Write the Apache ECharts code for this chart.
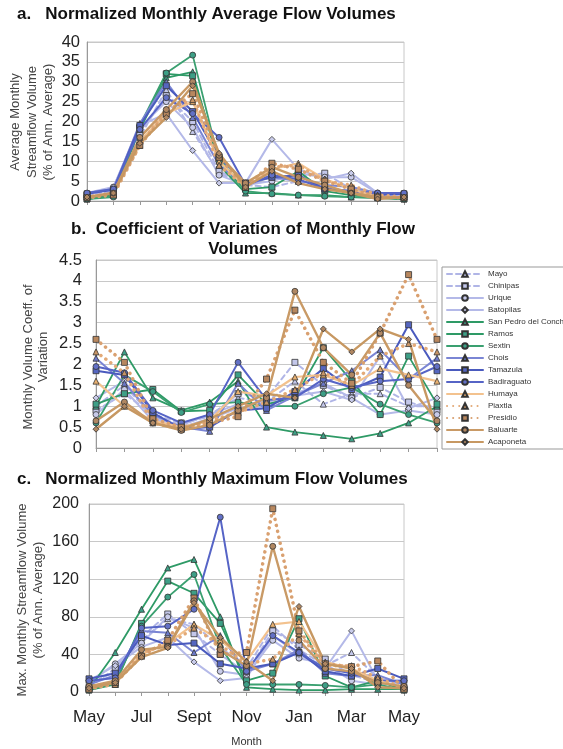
<!DOCTYPE html>
<html><head><meta charset="utf-8">
<script src="https://cdn.jsdelivr.net/npm/echarts@6/dist/echarts.min.js"></script>
<style>html,body{margin:0;padding:0;background:#fff}#c{width:563px;height:749px}</style>
</head><body><div id="c"></div>
<script>
// ---------- DATA ----------
const months = ['May','Jun','Jul','Aug','Sept','Oct','Nov','Dec','Jan','Feb','Mar','Apr','May'];
const rivers = ['Mayo','Chinipas','Urique','Batopilas','San Pedro del Conchos','Ramos','Sextin',
  'Chois','Tamazula','Badiraguato','Humaya','Piaxtla','Presidio','Baluarte','Acaponeta'];

// a. Normalized monthly average flow volume (% of annual average)
const avgMayo        = [1.5, 2.5, 16, 28, 17.5, 7, 4, 3.5, 5, 3.5, 2, 1.5, 1.5];
const avgChinipas    = [1.5, 2.5, 17, 26.5, 20, 7.5, 4.5, 6.5, 6, 7, 3, 1.5, 1.5];
const avgUrique      = [1.5, 3.5, 18.5, 25, 18.5, 6.5, 4, 5, 7, 6, 6, 2, 1.5];
const avgBatopilas   = [2, 3.5, 19, 22, 12.7, 4.5, 4.5, 15.5, 8, 5.5, 7, 2, 2];
const avgSanPedro    = [0.5, 1.5, 18, 31, 32.5, 9, 2, 2, 1.5, 1.5, 1, 0.8, 0.5];
const avgRamos       = [0.5, 1.5, 18.5, 32, 31.5, 10.5, 3, 3.5, 7.5, 2.5, 1.5, 1, 0.5];
const avgSextin      = [0.5, 1, 19, 32.2, 36.7, 10, 2.5, 1.8, 1.5, 1.2, 1, 0.8, 0.5];
const avgChois       = [2, 3, 19.5, 30, 21, 9, 4, 6, 5, 4, 3.5, 2, 2];
const avgTamazula    = [1.8, 2.8, 19, 29, 22.5, 11, 4.5, 6, 6.5, 3, 2.5, 1.5, 1.8];
const avgBadiraguato = [2, 3, 18, 26, 22, 16, 4, 6.5, 5.5, 3, 2.5, 2, 2];
const avgHumaya      = [1, 2, 15, 22, 25, 10, 3.5, 8, 9.5, 5.5, 3, 1, 1];
const avgPiaxtla     = [1, 2, 14, 23, 25.5, 9, 3.5, 8.5, 9, 5, 4, 1.5, 1];
const avgPresidio    = [0.8, 1.5, 14, 22, 27, 11, 3.5, 9.5, 8, 5, 3, 1, 0.8];
const avgBaluarte    = [0.8, 2, 16, 23, 30, 11.5, 4.5, 8.5, 6, 4, 2, 1, 0.8];
const avgAcaponeta   = [1, 2, 14.5, 21, 29, 12, 3.5, 7.5, 4.5, 3, 2, 0.5, 1];

// b. Coefficient of variation of monthly flow volumes
const cvMayo        = [1.0, 1.5, 0.75, 0.55, 0.8, 1.2, 1.1, 1.6, 1.05, 1.3, 1.3, 1.0, 1.0];
const cvChinipas    = [0.9, 1.3, 0.8, 0.6, 0.75, 1.3, 1.2, 2.05, 1.5, 1.2, 1.45, 1.1, 0.9];
const cvUrique      = [0.8, 1.4, 0.65, 0.5, 0.7, 0.95, 1.0, 1.3, 1.55, 1.2, 0.8, 0.9, 0.8];
const cvBatopilas   = [1.2, 1.6, 0.7, 0.55, 0.8, 1.05, 1.1, 1.25, 1.35, 1.15, 2.2, 0.95, 1.2];
const cvSanPedro    = [1.0, 2.3, 1.2, 0.9, 1.1, 1.6, 0.5, 0.38, 0.3, 0.22, 0.35, 0.6, 1.0];
const cvRamos       = [1.05, 1.3, 1.4, 0.88, 0.9, 1.75, 1.05, 1.2, 2.4, 1.6, 0.8, 2.2, 1.05];
const cvSextin      = [0.6, 1.75, 1.35, 0.85, 1.05, 1.1, 1.0, 1.0, 1.3, 1.45, 1.05, 0.8, 0.6];
const cvChois       = [2.15, 1.55, 0.8, 0.5, 0.4, 1.55, 0.9, 1.25, 1.55, 1.85, 2.35, 1.65, 2.15];
const cvTamazula    = [1.85, 1.75, 0.85, 0.45, 0.5, 0.9, 0.95, 1.35, 1.9, 1.4, 1.7, 2.95, 1.85];
const cvBadiraguato = [1.95, 1.8, 0.9, 0.6, 0.8, 2.05, 1.15, 1.2, 1.65, 1.45, 1.6, 1.65, 1.95];
const cvHumaya      = [1.6, 1.0, 0.65, 0.5, 0.65, 1.35, 1.25, 1.7, 1.75, 1.5, 1.9, 1.75, 1.6];
const cvPiaxtla     = [2.3, 1.8, 0.6, 0.45, 0.65, 0.85, 1.1, 1.4, 1.8, 1.5, 2.2, 2.5, 2.3];
const cvPresidio    = [2.6, 2.05, 0.7, 0.5, 0.6, 0.75, 1.65, 3.3, 2.05, 1.55, 2.75, 4.15, 2.6];
const cvBaluarte    = [0.65, 1.1, 0.6, 0.42, 0.55, 0.9, 1.2, 3.75, 2.4, 1.75, 2.75, 1.5, 0.65];
const cvAcaponeta   = [0.45, 1.0, 0.6, 0.45, 0.7, 1.0, 1.3, 1.2, 2.85, 2.3, 2.85, 2.6, 0.45];

// c. Normalized monthly maximum flow volume (% of annual average)
const maxMayo        = [8, 22, 55, 78, 72, 48, 25, 70, 45, 28, 42, 15, 8];
const maxChinipas    = [5, 25, 58, 83, 62, 40, 20, 65, 50, 35, 18, 10, 5];
const maxUrique      = [10, 30, 52, 80, 68, 22, 18, 55, 36, 30, 12, 8, 10];
const maxBatopilas   = [12, 28, 48, 58, 32, 12, 15, 60, 40, 25, 65, 12, 12];
const maxSanPedro    = [3, 42, 88, 132, 141, 80, 5, 3, 2, 2, 3, 3, 3];
const maxRamos       = [2, 8, 73, 118, 105, 73, 12, 20, 78, 17, 5, 12, 2];
const maxSextin      = [2, 10, 70, 101, 125, 48, 8, 8, 8, 7, 5, 8, 2];
const maxChois       = [8, 18, 65, 63, 42, 60, 22, 30, 45, 20, 17, 18, 8];
const maxTamazula    = [14, 20, 60, 50, 52, 30, 25, 30, 42, 22, 17, 25, 14];
const maxBadiraguato = [12, 15, 68, 70, 88, 186, 22, 60, 42, 25, 20, 12, 12];
const maxHumaya      = [5, 10, 40, 52, 72, 55, 33, 72, 75, 32, 25, 12, 5];
const maxPiaxtla     = [4, 8, 42, 50, 68, 50, 30, 35, 62, 28, 28, 15, 4];
const maxPresidio    = [3, 10, 38, 55, 100, 40, 42, 195, 65, 30, 27, 33, 3];
const maxBaluarte    = [6, 12, 45, 48, 97, 45, 28, 155, 55, 25, 22, 10, 6];
const maxAcaponeta   = [4, 10, 37, 47, 95, 58, 32, 12, 91, 30, 25, 5, 4];

const avgData = [avgMayo, avgChinipas, avgUrique, avgBatopilas, avgSanPedro, avgRamos, avgSextin,
  avgChois, avgTamazula, avgBadiraguato, avgHumaya, avgPiaxtla, avgPresidio, avgBaluarte, avgAcaponeta];
const cvData = [cvMayo, cvChinipas, cvUrique, cvBatopilas, cvSanPedro, cvRamos, cvSextin,
  cvChois, cvTamazula, cvBadiraguato, cvHumaya, cvPiaxtla, cvPresidio, cvBaluarte, cvAcaponeta];
const maxData = [maxMayo, maxChinipas, maxUrique, maxBatopilas, maxSanPedro, maxRamos, maxSextin,
  maxChois, maxTamazula, maxBadiraguato, maxHumaya, maxPiaxtla, maxPresidio, maxBaluarte, maxAcaponeta];

// ---------- STYLE ----------
const DASH = [5, 4], DOT = [0.1, 6];
const styles = [
  {line:'#b0b5e6', fill:'#c3c7ea', sym:'triangle', dash:DASH, w:2},
  {line:'#b0b5e6', fill:'#c3c7ea', sym:'rect', dash:DASH, w:2},
  {line:'#b4b9e8', fill:'#c8cbea', sym:'circle', dash:'solid', w:2},
  {line:'#b4b9e8', fill:'#c8cbea', sym:'diamond', dash:'solid', w:2},
  {line:'#2e9a66', fill:'#3d9f86', sym:'triangle', dash:'solid', w:1.8},
  {line:'#2e9a66', fill:'#3d9f86', sym:'rect', dash:'solid', w:1.8},
  {line:'#3aa070', fill:'#3d9f86', sym:'circle', dash:'solid', w:1.8},
  {line:'#7a85d4', fill:'#6c78c8', sym:'triangle', dash:'solid', w:2},
  {line:'#4a5abe', fill:'#5566c0', sym:'rect', dash:'solid', w:2},
  {line:'#5664c6', fill:'#6270c6', sym:'circle', dash:'solid', w:2},
  {line:'#f3c28e', fill:'#e8b070', sym:'triangle', dash:'solid', w:2.2},
  {line:'#e3aa78', fill:'#c89566', sym:'triangle', dash:DOT, w:3.5},
  {line:'#d9a070', fill:'#b8875e', sym:'rect', dash:DOT, w:3.5},
  {line:'#c99a66', fill:'#b08762', sym:'circle', dash:'solid', w:2.4},
  {line:'#c79862', fill:'#b08762', sym:'diamond', dash:'solid', w:2.4}
];

function makeSeries(panel, dataSets) {
  return rivers.map((name, i) => ({
    name, type: 'line', xAxisIndex: panel, yAxisIndex: panel,
    data: dataSets[i], symbol: styles[i].sym, symbolSize: 6,
    lineStyle: {color: styles[i].line, width: styles[i].w, type: styles[i].dash, cap: 'round'},
    itemStyle: {color: styles[i].fill, borderColor: '#333', borderWidth: 0.8},
    emphasis: {disabled: true}, animation: false
  }));
}

const FONT = 'Liberation Sans, Arial';
const grids = [
  {left: 87, top: 42, width: 317, height: 159},
  {left: 96, top: 260, width: 341, height: 188},
  {left: 89, top: 504, width: 315, height: 188}
].map(g => Object.assign(g, {show: true, borderColor: '#c8c8c8', borderWidth: 1, containLabel: false}));

function xAx(i, showLabels) {
  return {
    type: 'category', gridIndex: i, data: months, boundaryGap: false,
    axisLine: {lineStyle: {color: '#999'}},
    axisTick: {show: true, interval: 0, length: 4, lineStyle: {color: '#999'}},
    axisLabel: showLabels ? {show: true, interval: 1, fontSize: 17, color: '#222', margin: 17, fontFamily: FONT} : {show: false},
    splitLine: {show: false},
    name: showLabels ? 'Month' : '', nameLocation: 'middle', nameGap: 44,
    nameTextStyle: {fontSize: 11, color: '#333', fontFamily: FONT}
  };
}
function yAx(i, max, interval, margin, fs) {
  return {
    type: 'value', gridIndex: i, min: 0, max, interval,
    axisLine: {show: true, lineStyle: {color: '#999'}},
    axisTick: {show: false},
    axisLabel: {fontSize: fs, color: '#222', margin, fontFamily: FONT},
    splitLine: {lineStyle: {color: '#c8c8c8'}}
  };
}

const titleStyle = {fontSize: 17, fontWeight: 'bold', color: '#111', fontFamily: FONT};
const yNameStyle = {fontSize: 13, fill: '#444', fontFamily: FONT};

const option = {
  backgroundColor: '#fff',
  animation: false,
  title: [
    {text: 'a.   Normalized Monthly Average Flow Volumes', left: 12, top: 1, textStyle: titleStyle},
    {text: 'b.  Coefficient of Variation of Monthly Flow\nVolumes', left: 238, top: 214, textAlign: 'center',
      textStyle: Object.assign({lineHeight: 20}, titleStyle)},
    {text: 'c.   Normalized Monthly Maximum Flow Volumes', left: 12, top: 466, textStyle: titleStyle}
  ],
  legend: {
    orient: 'vertical', left: 442, top: 267, data: rivers,
    itemWidth: 36, itemHeight: 7, itemGap: 4,
    padding: [3, 40, 3, 4], borderColor: '#999', borderWidth: 1, backgroundColor: '#fff',
    textStyle: {fontSize: 8, color: '#333', fontFamily: FONT},
    selectedMode: false
  },
  grid: grids,
  xAxis: [xAx(0, false), xAx(1, false), xAx(2, true)],
  yAxis: [yAx(0, 40, 5, 7, 16.5), yAx(1, 4.5, 0.5, 14, 16.5), yAx(2, 200, 40, 10, 16)],
  graphic: [
    {type: 'text', x: 32, y: 122, rotation: Math.PI / 2,
      style: Object.assign({text: 'Average Monthly\nStreamflow Volume\n(% of Ann. Average)', align: 'center', verticalAlign: 'middle', lineHeight: 16.5}, yNameStyle)},
    {type: 'text', x: 36, y: 357, rotation: Math.PI / 2,
      style: Object.assign({text: 'Monthly Volume Coeff. of\nVariation', align: 'center', verticalAlign: 'middle', lineHeight: 15}, yNameStyle)},
    {type: 'text', x: 30, y: 600, rotation: Math.PI / 2,
      style: Object.assign({text: 'Max. Monthly Streamflow Volume\n(% of Ann. Average)', align: 'center', verticalAlign: 'middle', lineHeight: 16}, yNameStyle)}
  ],
  series: [].concat(makeSeries(0, avgData), makeSeries(1, cvData), makeSeries(2, maxData))
};

const chart = echarts.init(document.getElementById('c'), null, {renderer: 'canvas'});
chart.setOption(option);
</script>
</body></html>
